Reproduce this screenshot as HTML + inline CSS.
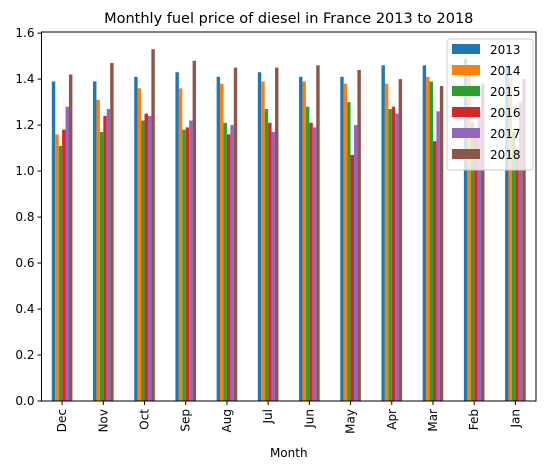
<!DOCTYPE html>
<html><head><meta charset="utf-8"><style>
body{margin:0;background:#fff;}
svg text{font-family:"DejaVu Sans","Liberation Sans",sans-serif;}
</style></head><body>
<svg id="chart" width="547" height="470" xmlns="http://www.w3.org/2000/svg"></svg>
<script>
const months=["Dec","Nov","Oct","Sep","Aug","Jul","Jun","May","Apr","Mar","Feb","Jan"];
const years=["2013","2014","2015","2016","2017","2018"];
const colors=["#1f77b4","#ff7f0e","#2ca02c","#d62728","#9467bd","#8c564b"];
const s2013=[1.39,1.39,1.41,1.43,1.41,1.43,1.41,1.41,1.46,1.46,1.49,1.46];
const s2014=[1.16,1.31,1.36,1.36,1.38,1.39,1.39,1.38,1.38,1.41,1.45,1.40];
const s2015=[1.11,1.17,1.22,1.18,1.21,1.27,1.28,1.30,1.27,1.39,1.21,1.17];
const s2016=[1.18,1.24,1.25,1.19,1.16,1.21,1.21,1.07,1.28,1.13,1.15,1.10];
const s2017=[1.28,1.27,1.24,1.22,1.20,1.17,1.19,1.20,1.25,1.26,1.26,1.30];
const s2018=[1.42,1.47,1.53,1.48,1.45,1.45,1.46,1.44,1.40,1.37,1.38,1.40];
const series=[s2013,s2014,s2015,s2016,s2017,s2018];
const yTicks=[0,0.2,0.4,0.6,0.8,1.0,1.2,1.4,1.6];
const NS="http://www.w3.org/2000/svg";
const svg=document.getElementById('chart');
const L=41.5,R=536,T=32,B=401,yMax=1.605;
const y=v=>B-(v/yMax)*(B-T);
const step=(R-L)/months.length;
const x=i=>L+step*(i+0.5);
const bw=step*0.5/6;
function mk(t,a,p){const e=document.createElementNS(NS,t);for(const k in a)e.setAttribute(k,a[k]);(p||svg).appendChild(e);return e;}
let t=mk('text',{x:(L+R)/2,y:23,'text-anchor':'middle','font-size':14.5,fill:'#000'});t.textContent="Monthly fuel price of diesel in France 2013 to 2018";


series.forEach((s,j)=>{s.forEach((v,i)=>{
 const r=mk('rect',{x:x(i)-step*0.25+j*bw,y:y(v),width:bw,height:B-y(v),fill:colors[j]});
 
 
});});
const fr=mk('rect',{x:L,y:T,width:R-L,height:B-T,fill:'none',stroke:'#000','stroke-width':1});


yTicks.forEach(v=>{
 mk('line',{x1:L-4,x2:L,y1:y(v),y2:y(v),stroke:'#000'});
 const tx=mk('text',{x:L-7,y:y(v)+4,'text-anchor':'end','font-size':12,fill:'#000'});tx.textContent=v.toFixed(1);
 
 
});
months.forEach((m,i)=>{
 mk('line',{x1:x(i),x2:x(i),y1:B,y2:B+4,stroke:'#000'});
 const tx=mk('text',{x:x(i)+4,y:B+8,'text-anchor':'end','font-size':12,fill:'#000',transform:`rotate(-90 ${x(i)+4} ${B+8})`});tx.textContent=m;
 
 
});
const xl=mk('text',{x:(L+R)/2,y:457,'text-anchor':'middle','font-size':12,fill:'#000'});xl.textContent="Month";


const lg=mk('g',{});


mk('rect',{x:447,y:39,width:86,height:131,rx:3,fill:'#fff','fill-opacity':0.8,stroke:'#ccc'},lg);
years.forEach((yr,j)=>{
 const yy=48+j*21;
 mk('rect',{x:452,y:yy-4,width:28,height:10,fill:colors[j]},lg);
 const tx=mk('text',{x:490,y:yy+6,'font-size':12,fill:'#000'},lg);tx.textContent=yr;
 
 
});
</script>
</body></html>
